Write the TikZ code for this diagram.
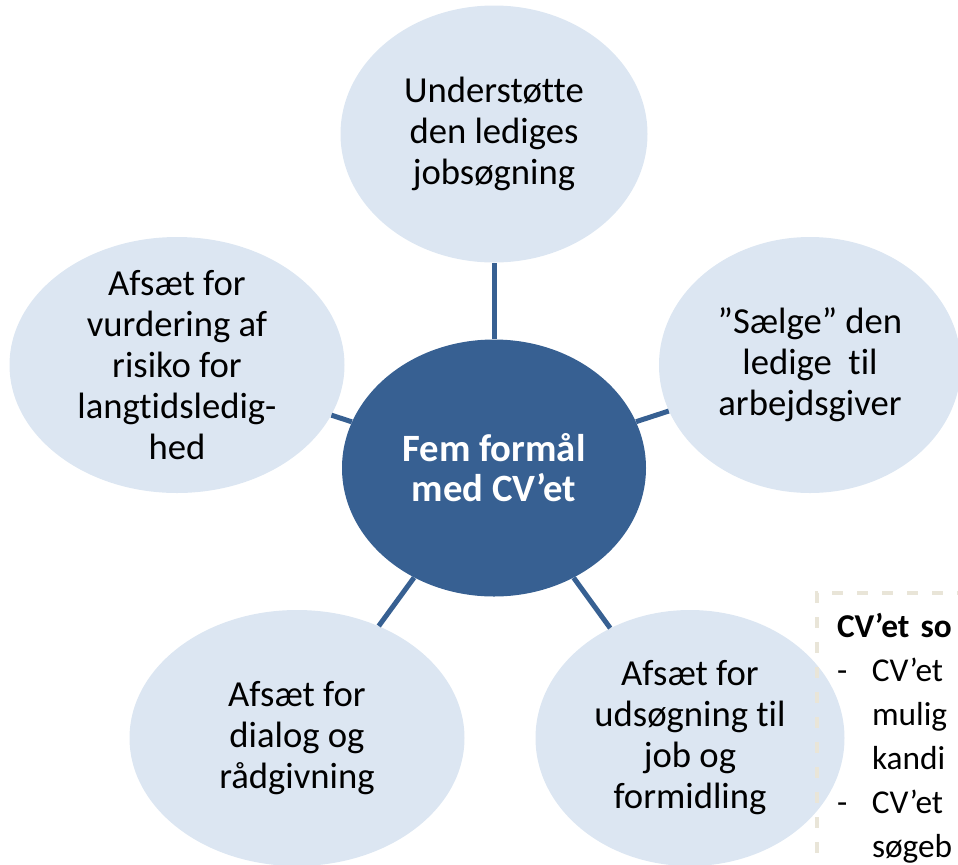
\documentclass[tikz,border=0pt]{standalone}
\usepackage{fontspec}
\setmainfont{Carlito}[Ligatures=CommonOff]
\usepackage{xcolor}
\usepackage{tikz}
\usetikzlibrary{shapes.geometric}
\definecolor{hubblue}{HTML}{376092}
\definecolor{petalblue}{HTML}{DCE6F2}
\definecolor{notebeige}{HTML}{E9E5D8}

\begin{document}
\begin{tikzpicture}[x=0.75pt,y=-0.75pt,
        every node/.style={font=\fontsize{27.5pt}{30.75pt}\selectfont},
        petal/.style={ellipse, fill=petalblue, minimum height=192pt, inner sep=0pt},
        txt/.style={align=center, text=black}]
        \useasboundingbox (0,0) rectangle (958,865);
        \node[ellipse, fill=hubblue, minimum width=228pt, minimum height=192.75pt, inner sep=0pt,
              text=white, align=center, font=\fontsize{29pt}{30pt}\selectfont\bfseries]
              (0) at (494,468) {Fem formål\\med CV’et};
        \node[petal, minimum width=230.25pt, minimum height=192.75pt,
              label={[txt]center:{Understøtte\\den lediges\\jobsøgning}}] (1) at (494,134) {};
        \node[petal, minimum width=226.5pt,
              label={[txt]center:{”Sælge” den\\ledige\ \ til\\arbejdsgiver}}] (2) at (810,365) {};
        \node[petal, minimum width=231.75pt,
              label={[txt]center:{Afsæt for\\udsøgning til\\job og\\formidling}}] (3) at (690,738) {};
        \node[petal, minimum width=251.25pt,
              label={[txt]center:{Afsæt for\\dialog og\\rådgivning}}] (4) at (297,738) {};
        \node[petal, minimum width=251.25pt,
              label={[txt]center:{Afsæt for\\vurdering af\\risiko for\\langtidsledig-\\hed}}] (5) at (177,365) {};
        \tikzset{spoke/.style={draw=hubblue, line width=3.75pt}}
        \path   (0) edge[spoke] (1)
                (0) edge[spoke] (2)
                (0) edge[spoke] (3)
                (0) edge[spoke] (4)
                (0) edge[spoke] (5);
        \tikzset{notebox/.style={draw=notebeige, line width=3pt, dash pattern=on 8.25pt off 10.5pt,
                 outer sep=0pt, inner xsep=15pt, inner ysep=10pt, text width=180pt, align=left,
                 font=\fontsize{25pt}{33pt}\selectfont}}
        \node[notebox, anchor=north west] (note) at (817,593)
              {\begin{tabular}{@{}p{26.25pt}@{}l@{}}
                 \multicolumn{2}{@{}l}{\textbf{CV’et so}}\\
                 - & CV’et\\
                   & mulig\\
                   & kandi\\
                 - & CV’et\\
                   & søgeb
               \end{tabular}};
    \end{tikzpicture}
\end{document}
